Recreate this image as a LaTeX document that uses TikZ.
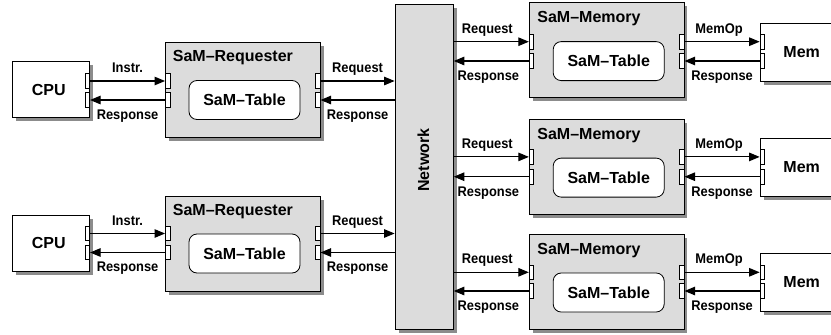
\documentclass[tikz,border=0pt]{standalone}
\usepackage{fontspec}
\setmainfont{Liberation Sans}
\newfontfamily\condfont[FakeStretch=0.92]{Liberation Sans}
\usetikzlibrary{arrows.meta,shadows,calc}
\definecolor{boxgray}{HTML}{DCDCDC}
\definecolor{shadowgray}{HTML}{8C8C8C}
\newcommand{\bigfnt}{\fontsize{16}{18}\selectfont\bfseries}
\newcommand{\smallfnt}{\condfont\fontsize{14}{16}\selectfont\bfseries}
\tikzset{
  box/.style={draw, line width=0.9pt, inner sep=0pt,
    drop shadow={shadow xshift=3.5pt, shadow yshift=-3.5pt, fill=shadowgray, opacity=1}},
  graybox/.style={box, fill=boxgray},
  whitebox/.style={box, fill=white},
  reqbox/.style={graybox, minimum width=154.5pt, minimum height=95pt},
  cpubox/.style={whitebox, minimum width=77pt, minimum height=56pt},
  membox/.style={whitebox, minimum width=100pt, minimum height=58pt, anchor=west},
  tablebox/.style={draw, line width=0.8pt, fill=white, rounded corners=8pt,
    minimum width=111pt, minimum height=39pt, inner sep=0pt, font=\bigfnt},
  title/.style={font=\bigfnt, inner sep=0pt, anchor=base west},
  bigtext/.style={font=\bigfnt, inner sep=0pt},
  port/.style={draw, line width=0.6pt, fill=white, minimum width=4.5pt,
    minimum height=14.5pt, inner sep=0pt},
  conn/.style={line width=1.1pt, -{Triangle[length=10.5pt,width=8.5pt]}},
  labup/.style={font=\smallfnt, inner sep=0pt, anchor=base, yshift=8.4pt},
  labdn/.style={font=\smallfnt, inner sep=0pt, anchor=base, yshift=-19.3pt},
}
\begin{document}
\begin{tikzpicture}[x=1pt,y=-1pt]
\useasboundingbox (0,0) rectangle (831,335);
\clip (0,0) rectangle (831,335);

% Network
\node[graybox, minimum width=58.3pt, minimum height=325pt] (net) at (424.2,166.8) {};
\node[bigtext, rotate=90] (netlab) at (423.5,160) {Network};

% ---------- Requester rows ----------
\foreach \i/\yc/\ya/\yb in {1/89.5/81/100, 2/243/233.5/252.5}{
  \node[cpubox] (cpu\i) at (51,\yc) {};
  \node[bigtext] (cpulab\i) at (48.7,\yc) {CPU};
  \node[reqbox] (req\i) at (242.8,\yc+0.5) {};
  \node[title] (reqt\i) at ($(req\i.north west)+(7.6,19.5)$) {SaM–Requester};
  \node[tablebox] (rtab\i) at ($(req\i.center)+(1.7,10)$) {SaM–Table};
  \node[port] (cpa\i) at (87.5,\ya) {};
  \node[port] (cpb\i) at (87.5,\yb) {};
  \node[port] (rla\i) at (167.6,\ya) {};
  \node[port] (rlb\i) at (167.6,\yb) {};
  \node[port] (rra\i) at (318,\ya) {};
  \node[port] (rrb\i) at (318,\yb) {};
  \draw[conn] (cpa\i.east) -- node[labup] {Instr.} (rla\i.west);
  \draw[conn] (rlb\i.west) -- node[labdn] {Response} (cpb\i.east);
  \draw[conn] (rra\i.east) -- node[labup] {Request} (net.west |- rra\i.east);
  \draw[conn] (net.west |- rrb\i.east) -- node[labdn] {Response} (rrb\i.east);
}

% ---------- Memory rows ----------
\foreach \i/\yc/\ym/\ya/\yb in {1/50.3/52/41.7/61, 2/166.8/167.5/156.9/176.7, 3/281.7/282.5/272.3/291}{
  \node[reqbox] (mem\i) at (606.7,\yc) {};
  \node[title] (memt\i) at ($(mem\i.north west)+(8.2,20.5)$) {SaM–Memory};
  \node[tablebox] (mtab\i) at ($(mem\i.center)+(2,10.8)$) {SaM–Table};
  \node[membox] (ram\i) at (760,\ym) {};
  \node[bigtext] (ramlab\i) at (801.7,\ym) {Mem};
  \node[port] (mla\i) at (531.4,\ya) {};
  \node[port] (mlb\i) at (531.4,\yb) {};
  \node[port] (mra\i) at (682,\ya) {};
  \node[port] (mrb\i) at (682,\yb) {};
  \node[port] (rpa\i) at (762.2,\ya) {};
  \node[port] (rpb\i) at (762.2,\yb) {};
  \draw[conn] (net.east |- mla\i.west) -- node[labup, xshift=-4pt] {Request} (mla\i.west);
  \draw[conn] (mlb\i.west) -- node[labdn, xshift=-3pt] {Response} (net.east |- mlb\i.west);
  \draw[conn] (mra\i.east) -- node[labup, xshift=-3pt] {MemOp} (rpa\i.west);
  \draw[conn] (rpb\i.west) -- node[labdn] {Response} (mrb\i.east);
}
\end{tikzpicture}
\end{document}
